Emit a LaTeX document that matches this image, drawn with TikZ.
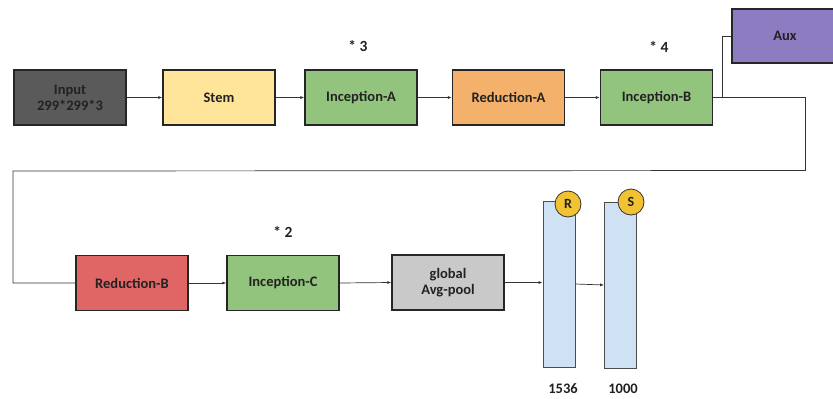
\documentclass[tikz,border=0pt]{standalone}
\usepackage{fontspec}
\setmainfont{Carlito}[BoldFont={Carlito Bold}]
\usetikzlibrary{arrows.meta}
\definecolor{cinput}{HTML}{5A5A5A}
\definecolor{cstem}{HTML}{FFE599}
\definecolor{cinc}{HTML}{93C47D}
\definecolor{credA}{HTML}{F4B16B}
\definecolor{caux}{HTML}{8E7CC3}
\definecolor{credB}{HTML}{E06666}
\definecolor{cpool}{HTML}{C9C9C9}
\definecolor{cbar}{HTML}{CFE2F3}
\definecolor{ccirc}{HTML}{F1C232}
\definecolor{ctext}{HTML}{222222}
\tikzset{
  blk/.style={draw=black!85, line width=1.3pt, minimum width=112pt, minimum height=55pt,
    inner sep=0pt, font=\fontsize{14.5}{16}\selectfont\bfseries, text=ctext, align=center},
  bar/.style={draw=black!70, line width=0.8pt, fill=cbar, minimum width=32pt, minimum height=166pt, inner sep=0pt},
  circ/.style={circle, draw=black!80, line width=0.8pt, fill=ccirc, minimum size=26pt, inner sep=0pt,
    font=\fontsize{14}{15}\selectfont\bfseries, text=ctext},
  lbl/.style={font=\fontsize{15.5}{17}\selectfont\bfseries, text=ctext},
  conn/.style={draw=black!80, line width=0.7pt},
  arr/.style={conn, -{Latex[length=4pt,width=3pt]}}
}
\begin{document}
\begin{tikzpicture}[x=1pt,y=-1pt]
\useasboundingbox (0,0) rectangle (833,399);
\fill[white] (0,0) rectangle (833,399);
% row 1
\node[blk, fill=cinput] (in) at (70,97.5) {Input\\299*299*3};
\node[blk, fill=cstem] (stem) at (219,97.5) {Stem};
\node[blk, fill=cinc] (incA) at (361,97.5) {Inception-A};
\node[blk, fill=credA] (redA) at (508.5,97.5) {Reduction-A};
\node[blk, fill=cinc] (incB) at (656.5,97.5) {Inception-B};
\node[blk, fill=caux, minimum width=106pt, minimum height=54pt] (aux) at (785,36) {Aux};
\node[lbl] (m3) at (358,46) {* 3};
\node[lbl] (m4) at (659,47) {* 4};
% row 2
\node[blk, fill=credB] (redB) at (132,283) {Reduction-B};
\node[blk, fill=cinc] (incC) at (283,283) {Inception-C};
\node[blk, fill=cpool] (pool) at (448,282.5) {global\\Avg-pool};
\node[lbl] (m2) at (283,232) {* 2};
\node[bar] (R) at (559,284) {};
\node[bar] (S) at (620.5,285) {};
\node[circ] (rc) at (568,204) {R};
\node[circ] (sc) at (631,202) {S};
\node[lbl, font=\fontsize{14.5}{16}\selectfont\bfseries] (l1) at (563,389) {1536};
\node[lbl, font=\fontsize{14.5}{16}\selectfont\bfseries] (l2) at (623,389) {1000};
% connectors
\draw[arr] (in.east) -- (stem.west);
\draw[arr] (stem.east) -- (incA.west);
\draw[arr] (incA.east) -- (redA.west);
\draw[arr] (redA.east) -- (incB.west);
\coordinate (b1) at (722,97.5);
\coordinate (b2) at (805,97.5);
\coordinate (b3) at (805,171);
\coordinate (b4) at (13,171);
\coordinate (b5) at (13,283);
\draw[conn] (incB.east) -- (b1) -- (b2) -- (b3);
\draw[conn] (b1) |- (aux.west);
\draw[conn] (805,170.5) -- (b4) -- (b5) -- (redB.west);
\draw[arr] (redB.east) -- (incC.west);
\draw[arr] (incC.east) -- (pool.west);
\draw[arr] (pool.east) -- (R.west |- pool.east);
\draw[arr] (R.east |- 0,284) -- (S.west |- 0,285);
\end{tikzpicture}
\end{document}
